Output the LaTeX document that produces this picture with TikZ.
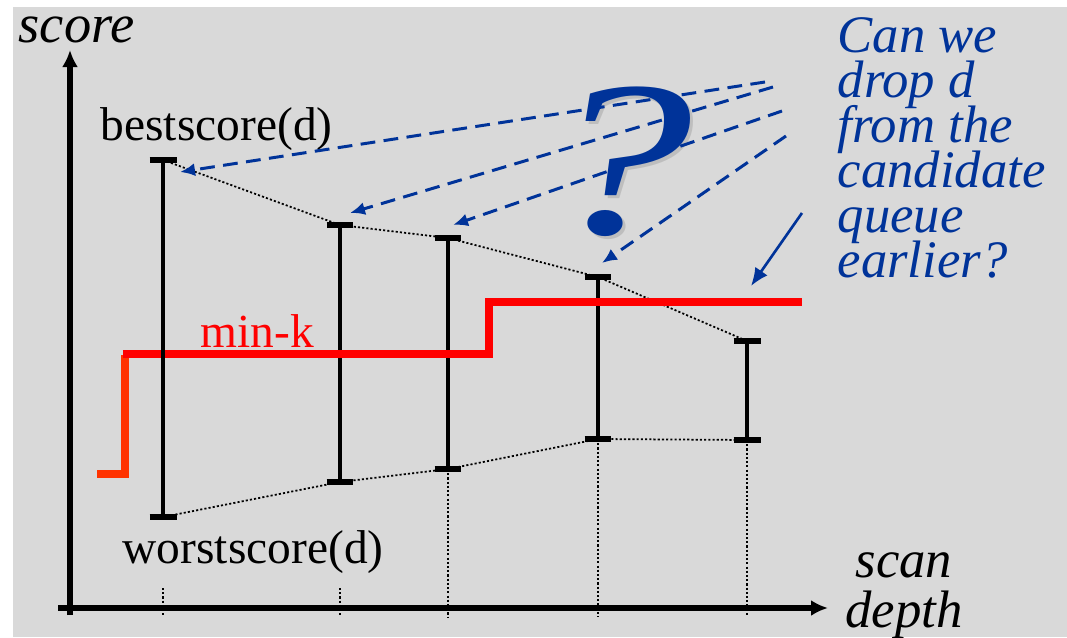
\documentclass[tikz,border=0pt]{standalone}
\usepackage{fontspec}
\setmainfont{Liberation Serif}
\usetikzlibrary{arrows.meta}
\definecolor{qblue}{RGB}{0,51,153}
\definecolor{panel}{RGB}{217,217,217}
\definecolor{minkred}{RGB}{255,0,0}
\definecolor{minkorange}{RGB}{255,51,0}
\newcommand\tightlines{\lineskiplimit=-100pt\relax}
\begin{document}
\begin{tikzpicture}[line join=miter,x=1.0cm,y=1.0cm,
	axis/.style={line width=1.45pt,-{Latex[length=0.17cm,width=0.16cm]}},
	stem/.style={line width=1.3pt},
	capline/.style={line width=1.45pt},
	guide/.style={line width=0.5pt,dash pattern=on 0.6pt off 0.6pt},
	mink/.style={line width=2pt,minkred},
	ask/.style={qblue,line width=0.85pt,dash pattern=on 4.2pt off 2.4pt,-{Latex[length=0.15cm,width=0.13cm]}},
	label/.style={inner sep=0pt,font=\fontsize{13.5}{15}\selectfont},
	big/.style={inner sep=0pt,font=\fontsize{15.5}{14}\selectfont\itshape},
	qglyph/.style={inner sep=0pt,anchor=base,font=\fontsize{63}{63}\selectfont\itshape}]
	\useasboundingbox (0,0) rectangle (10.67,6.37);
	\fill[panel] (0.13,0) rectangle (10.67,6.30);
	% best and worst score of each candidate
	\coordinate (bt1) at (1.63,4.77); \coordinate (wb1) at (1.63,1.20);
	\coordinate (bt2) at (3.40,4.12); \coordinate (wb2) at (3.40,1.55);
	\coordinate (bt3) at (4.48,3.99); \coordinate (wb3) at (4.48,1.68);
	\coordinate (bt4) at (5.98,3.60); \coordinate (wb4) at (5.98,1.98);
	\coordinate (bt5) at (7.47,2.96); \coordinate (wb5) at (7.47,1.97);
	\coordinate (foot) at (0,0.20);
	\coordinate (tick) at (0,0.49);
	\draw[guide] (bt1)--(bt2)--(bt3)--(bt4)--(bt5);
	\draw[guide] (wb1)--(wb2)--(wb3)--(wb4)--(wb5);
	\draw[guide] (wb1 |- tick)--(wb1 |- foot);
	\draw[guide] (wb2 |- tick)--(wb2 |- foot);
	\draw[guide] (wb3)--(wb3 |- foot);
	\draw[guide] (wb4)--(wb4 |- foot);
	\draw[guide] (wb5)--(wb5 |- foot);
	\foreach \i in {2,...,5} {
		\draw[stem] (bt\i)--(wb\i);
		\draw[capline] ([xshift=-0.135cm]bt\i)--([xshift=0.135cm]bt\i);
		\draw[capline] ([xshift=-0.135cm]wb\i)--([xshift=0.135cm]wb\i);
	}
	% min-k threshold
	\draw[mink,minkorange] (0.97,1.63)--(1.25,1.63)--(1.25,2.82);
	\draw[mink] (1.23,2.83)--(4.89,2.83)--(4.89,3.35)--(8.02,3.35);
	\draw[stem] (bt1)--(wb1);
	\draw[capline] ([xshift=-0.135cm]bt1)--([xshift=0.135cm]bt1);
	\draw[capline] ([xshift=-0.135cm]wb1)--([xshift=0.135cm]wb1);
	% axes
	\draw[axis] (0.70,0.22)--(0.70,5.87);
	\draw[axis] (0.58,0.29)--(8.28,0.29);
	\node[big,anchor=base west] (yl) at (0.18,5.95) {score};
	\node[big,anchor=base,align=center,font=\fontsize{15}{14.2}\selectfont\itshape\tightlines] (xl) at (9.04,0.10) {scan\\depth};
	\node[label,anchor=base west] (best) at (1.00,4.97) {bestscore(d)};
	\node[label,anchor=base west] (worst) at (1.22,0.74) {worstscore(d)};
	\node[label,anchor=base west,text=minkred] (mk) at (2.00,2.90) {min-k};
	% the question
	\node[qglyph,text=black,opacity=0.12] at (6.21,4.01) {\scalebox{1.35}[1]{?}};
	\node[qglyph,text=qblue] (qmark) at (6.18,4.04) {\scalebox{1.35}[1]{?}};
	\node[big,anchor=base west,align=left,text=qblue,font=\fontsize{15}{12.8}\selectfont\itshape\tightlines] (why) at (8.37,3.60) {Can we\\drop d\\from the\\candidate\\queue\\earlier?};
	\coordinate (q1) at (7.65,5.55);
	\coordinate (q2) at (7.73,5.50);
	\coordinate (q3) at (7.82,5.26);
	\coordinate (q4) at (7.86,5.01);
	\draw[ask] (q1)--([xshift=0.17cm,yshift=-0.12cm]bt1);
	\draw[ask] (q2)--([xshift=0.10cm,yshift=0.12cm]bt2);
	\draw[ask] (q3)--([xshift=0.05cm,yshift=0.13cm]bt3);
	\draw[ask] (q4)--([xshift=0.04cm,yshift=0.14cm]bt4);
	\draw[qblue,line width=0.75pt,-{Latex[length=0.18cm,width=0.15cm]}] (8.02,4.24)--(7.51,3.51);
\end{tikzpicture}
\end{document}
